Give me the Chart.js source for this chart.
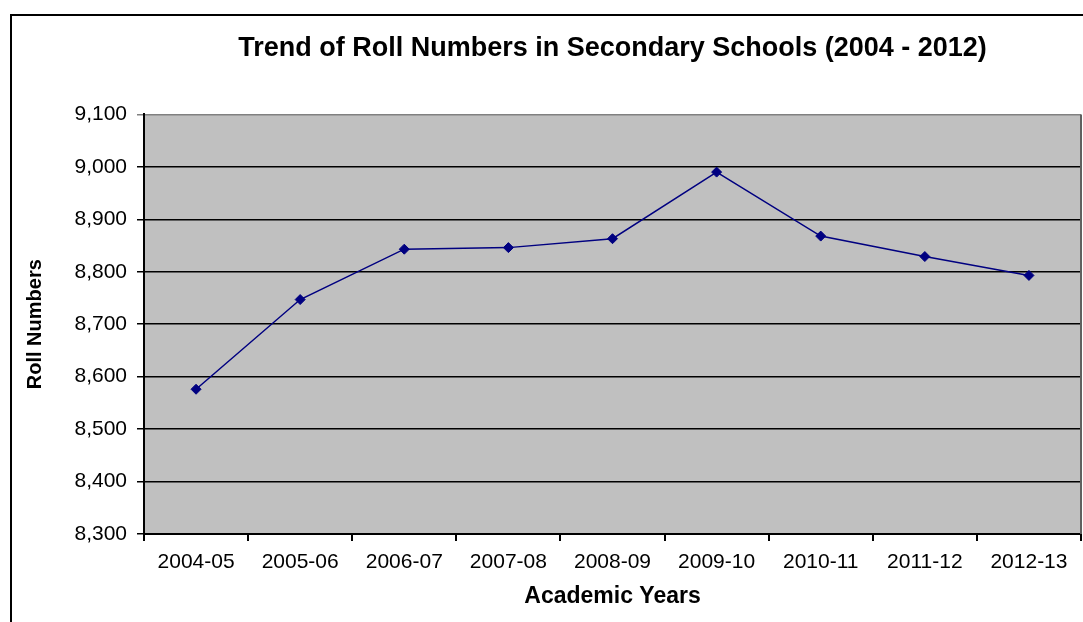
<!DOCTYPE html>
<html>
<head>
<meta charset="utf-8">
<script src="https://cdn.jsdelivr.net/npm/chart.js@4/dist/chart.umd.min.js"></script>
<style>
  html, body { margin: 0; padding: 0; background: #fff; }
  #wrap { position: relative; width: 1083px; height: 622px; overflow: hidden; }
  #frame { position: absolute; left: 10px; top: 14px; width: 1200px; height: 800px; border: 2px solid #000; pointer-events: none; }
</style>
</head>
<body>
<div id="wrap">
  <canvas id="roll-trend" width="1087" height="622"></canvas>
  <div id="frame"></div>
</div>
<script>
const years = ["2004-05", "2005-06", "2006-07", "2007-08", "2008-09", "2009-10", "2010-11", "2011-12", "2012-13"];
const rollNumbers = [8576, 8747, 8843, 8846, 8863, 8990, 8868, 8829, 8793];
const yMin = 8300;
const yMax = 9100;
const yStep = 100;

// grey plot area + dark right edge like the old Excel chart
const plotBackground = {
  id: "plotBackground",
  beforeDraw(chart) {
    const { ctx, chartArea: a } = chart;
    ctx.save();
    ctx.fillStyle = "#c0c0c0";
    ctx.fillRect(a.left, a.top, a.right - a.left, a.bottom - a.top);
    ctx.restore();
  },
  afterDraw(chart) {
    const { ctx, chartArea: a } = chart;
    ctx.save();
    ctx.strokeStyle = "#606060";
    ctx.lineWidth = 2;
    ctx.beginPath();
    ctx.moveTo(a.right, a.top);
    ctx.lineTo(a.right, a.bottom);
    ctx.stroke();
    ctx.restore();
  },
};

const ctx = document.getElementById("roll-trend");

new Chart(ctx, {
  type: "line",
  data: {
    labels: years,
    datasets: [
      {
        label: "Roll Numbers",
        data: rollNumbers,
        borderColor: "#000080",
        backgroundColor: "#000080",
        borderWidth: 1.5,
        pointStyle: "rectRot",
        pointRadius: 5,
        pointBorderWidth: 1,
        tension: 0,
      },
    ],
  },
  options: {
    responsive: false,
    animation: false,
    layout: { padding: { left: 0, right: 0, top: 0, bottom: 0 } },
    plugins: {
      legend: { display: false },
      tooltip: { enabled: false },
      title: {
        display: true,
        fullSize: false,
        text: "Trend of Roll Numbers in Secondary Schools (2004 - 2012)",
        color: "#000",
        font: { family: "Arial, 'Liberation Sans'", size: 27, weight: "bold" },
        padding: { top: 32, bottom: 50 },
      },
    },
    scales: {
      x: {
        offset: true,
        grid: {
          offset: true,
          drawOnChartArea: false,
          drawTicks: true,
          tickLength: 7,
          color: "#000",
          lineWidth: 2,
        },
        border: { color: "#000", width: 2 },
        ticks: {
          color: "#000",
          padding: 9,
          maxRotation: 0,
          font: { family: "Arial, 'Liberation Sans'", size: 21 },
        },
        title: {
          display: true,
          text: "Academic Years",
          color: "#000",
          font: { family: "Arial, 'Liberation Sans'", size: 23, weight: "bold" },
          padding: { top: 0, bottom: 12 },
        },
        afterFit(scale) {
          scale.height = 88;
          scale.paddingLeft = 0;
          scale.paddingRight = 0;
        },
      },
      y: {
        min: yMin,
        max: yMax,
        grid: {
          color: (c) => (c.tick && c.tick.value === yMax ? "#808080" : "#000"),
          lineWidth: 1.5,
          tickLength: 7,
        },
        border: { color: "#000", width: 2 },
        ticks: {
          stepSize: yStep,
          color: "#000",
          padding: 10,
          font: { family: "Arial, 'Liberation Sans'", size: 21 },
          callback: (v) => v.toLocaleString("en-US"),
        },
        title: {
          display: true,
          text: "Roll Numbers",
          color: "#000",
          font: { family: "Arial, 'Liberation Sans'", size: 20, weight: "bold" },
          padding: { top: 23, bottom: 0 },
        },
        afterFit(scale) {
          scale.width = 144;
        },
      },
    },
  },
  plugins: [plotBackground],
});
</script>
</body>
</html>
